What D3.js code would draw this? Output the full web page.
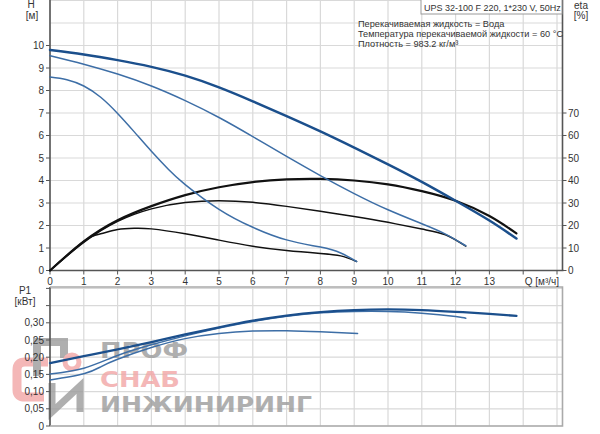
<!DOCTYPE html>
<html><head><meta charset="utf-8">
<script src="https://cdn.jsdelivr.net/npm/d3@7"></script>
<style>
html,body{margin:0;padding:0;background:#fff;}
svg{display:block;font-family:"Liberation Sans",Arial,sans-serif;}
</style></head>
<body>
<svg id="c" width="600" height="434"></svg>
<script>
// ---------- DATA ----------
const qTicks = [0,1,2,3,4,5,6,7,8,9,10,11,12,13];
const hTicks = [0,1,2,3,4,5,6,7,8,9,10];
const etaTicks = [0,10,20,30,40,50,60,70];
const pTicks = [0,0.05,0.10,0.15,0.20,0.25,0.30];
const pTickLabels = ["0","0,05","0,10","0,15","0,20","0,25","0,30"];

// Head H [m] vs Q [m3/h]
const headSpeed3 = [[0,9.8],[1,9.6],[2,9.35],[3,9.05],[4,8.66],[5,8.14],[6,7.52],[7,6.86],[8,6.18],[9,5.46],[10,4.72],[11,3.94],[12,3.1],[13,2.22],[13.8,1.42]];
const headSpeed2 = [[0,9.55],[1,9.17],[2,8.73],[3,8.2],[4,7.55],[5,6.8],[6,5.95],[7,5.07],[8,4.22],[9,3.42],[10,2.7],[11,2.08],[11.7,1.62],[12.3,1.1]];
const headSpeed1 = [[0,8.6],[0.5,8.48],[1,8.2],[1.5,7.7],[2,6.98],[2.5,6.15],[3,5.3],[3.5,4.5],[4,3.82],[5,2.72],[6,1.92],[7,1.36],[8,1.04],[8.6,0.78],[9.07,0.4]];

// Efficiency eta [%]
const etaSpeed3 = [[0,0],[1,12.9],[2,22.3],[3,28.6],[4,33.5],[5,37],[6,39.3],[7,40.5],[8,40.7],[9,40],[10,38.3],[11,35.3],[12,31],[13,24.2],[13.8,16.5]];
const etaSpeed2 = [[0,0],[1,12.5],[2,21.8],[3,27.4],[4,30.2],[5,31],[6,30.3],[7,28.5],[8,26.3],[9,24],[10,21.4],[11,18.4],[11.7,15.9],[12.3,10.8]];
const etaSpeed1 = [[0,0],[1,13],[1.5,16.3],[2,18.2],[2.5,18.8],[3,18.5],[4,16.3],[5,13.5],[6,10.8],[7,8.9],[8,7.6],[8.6,6.5],[9.07,4]];

// Power P1 [kW]
const powerSpeed3 = [[0,0.183],[1,0.203],[2,0.223],[3,0.244],[4,0.266],[5,0.287],[6,0.306],[7,0.321],[8,0.331],[9,0.337],[10,0.339],[11,0.337],[12,0.332],[13,0.326],[13.8,0.32]];
const powerSpeed2 = [[0,0.151],[1,0.168],[2,0.205],[3,0.236],[4,0.262],[5,0.285],[6,0.304],[7,0.319],[8,0.329],[9,0.333],[10,0.333],[11,0.328],[12,0.318],[12.3,0.313]];
const powerSpeed1 = [[0,0.134],[1,0.152],[1.5,0.172],[2,0.194],[3,0.228],[4,0.254],[5,0.269],[6,0.276],[7,0.277],[8,0.274],[9.1,0.269]];

const titleText = "UPS 32-100 F 220, 1*230 V, 50Hz";
const infoLines = ["Перекачиваемая жидкость = Вода","Температура перекачиваемой жидкости = 60 °C","Плотность = 983.2 кг/м³"];

// ---------- SCALES ----------
const svg = d3.select("#c");
const x = d3.scaleLinear().domain([0,15]).range([50,557]);
const yH = d3.scaleLinear().domain([0,12]).range([270.5,0.5]);
const yEta = d3.scaleLinear().domain([0,120]).range([270.5,0.5]);
const yP = d3.scaleLinear().domain([0,0.4]).range([426,288.4]);
const xRight = 562.5;

const gridC = "#d9d9d9", axisC = "#555", textC = "#333";
const blueDark = "#1b4f8c", blueMid = "#3d6ea6";

// ---------- GRIDS ----------
const gTop = svg.append("g");
gTop.selectAll("line.vg").data(d3.range(0,16)).enter().append("line")
  .attr("x1",d=>x(d)).attr("x2",d=>x(d)).attr("y1",0).attr("y2",yH(0))
  .attr("stroke",gridC).attr("stroke-width",1.2);
gTop.selectAll("line.hg").data(d3.range(0,13)).enter().append("line")
  .attr("x1",x(0)).attr("x2",xRight).attr("y1",d=>yH(d)).attr("y2",d=>yH(d))
  .attr("stroke",gridC).attr("stroke-width",1.2);

const gBot = svg.append("g");
gBot.selectAll("line").data(d3.range(0,16)).enter().append("line")
  .attr("x1",d=>x(d)).attr("x2",d=>x(d)).attr("y1",287).attr("y2",yP(0))
  .attr("stroke",gridC).attr("stroke-width",1.2);
gBot.selectAll("line.h").data(d3.range(0,0.401,0.05)).enter().append("line")
  .attr("x1",x(0)).attr("x2",xRight).attr("y1",d=>yP(d)).attr("y2",d=>yP(d))
  .attr("stroke",gridC).attr("stroke-width",1.2);

// ---------- WATERMARK ----------
const wm = svg.append("g").attr("opacity",0.8);
wm.append("path").attr("d","M48,362 L25,362 Q17,362 17,370 L17,390 Q17,397 25,397 L44,397")
  .attr("fill","none").attr("stroke","#f2a6a6").attr("stroke-width",9);
wm.append("path").attr("d","M37,376 L37,342 L64,342 L64,358")
  .attr("fill","none").attr("stroke","#9c9c9c").attr("stroke-width",8);
wm.append("circle").attr("cx",72).attr("cy",362).attr("r",7)
  .attr("fill","none").attr("stroke","#f2a6a6").attr("stroke-width",5);
wm.append("path").attr("d","M52,383 L52,412 L80,386 L80,412")
  .attr("fill","none").attr("stroke","#9c9c9c").attr("stroke-width",7);
const wmText = [["ПРОФ",358,"#9c9c9c",88],["СНАБ",387,"#f2a6a6",80],["ИНЖИНИРИНГ",412,"#9c9c9c",212]];
wm.selectAll("text").data(wmText).enter().append("text")
  .attr("x",100).attr("y",d=>d[1]).text(d=>d[0])
  .attr("fill",d=>d[2]).attr("font-family","DejaVu Sans").attr("font-weight","bold").attr("font-size",21)
  .attr("textLength",d=>d[3]).attr("lengthAdjust","spacingAndGlyphs");

// ---------- AXES ----------
const ax = svg.append("g").attr("stroke",axisC).attr("stroke-width",1.6);
ax.append("line").attr("x1",x(0)).attr("x2",x(0)).attr("y1",0).attr("y2",yH(0));
ax.append("line").attr("x1",x(0)).attr("x2",xRight+1).attr("y1",yH(0)).attr("y2",yH(0));
ax.append("line").attr("x1",xRight).attr("x2",xRight).attr("y1",0).attr("y2",yH(0));
svg.append("path").attr("d",`M${x(0)},287 L${xRight},287 L${xRight},${yP(0)} L${x(0)},${yP(0)}`)
  .attr("fill","none").attr("stroke","#aaa").attr("stroke-width",1.6);
ax.append("line").attr("x1",x(0)).attr("x2",x(0)).attr("y1",287).attr("y2",yP(0));

const tk = svg.append("g").attr("stroke",axisC).attr("stroke-width",1);
tk.selectAll("line.hx").data(d3.range(0,16)).enter().append("line")
  .attr("x1",d=>x(d)).attr("x2",d=>x(d)).attr("y1",yH(0)).attr("y2",yH(0)+4);
tk.selectAll("line.hy").data(hTicks).enter().append("line")
  .attr("x1",x(0)-4).attr("x2",x(0)).attr("y1",d=>yH(d)).attr("y2",d=>yH(d));
tk.selectAll("line.ey").data(etaTicks).enter().append("line")
  .attr("x1",xRight).attr("x2",xRight+4).attr("y1",d=>yEta(d)).attr("y2",d=>yEta(d));
tk.selectAll("line.py").data(d3.range(0,0.401,0.05)).enter().append("line")
  .attr("x1",x(0)-4).attr("x2",x(0)).attr("y1",d=>yP(d)).attr("y2",d=>yP(d));

const lab = svg.append("g").attr("fill",textC).attr("font-size",10);
lab.selectAll("text.q").data(qTicks).enter().append("text")
  .attr("x",d=>x(d)).attr("y",yH(0)+14).attr("text-anchor","middle").text(d=>d);
lab.append("text").attr("x",559).attr("y",yH(0)+14).attr("text-anchor","end").text("Q [м³/ч]");
lab.selectAll("text.h").data(hTicks).enter().append("text")
  .attr("x",44).attr("y",d=>yH(d)+3.5).attr("text-anchor","end").text(d=>d);
lab.selectAll("text.e").data(etaTicks).enter().append("text")
  .attr("x",568).attr("y",d=>yEta(d)+3.5).attr("text-anchor","start").text(d=>d);
lab.selectAll("text.p").data(pTicks).enter().append("text")
  .attr("x",44).attr("y",d=>yP(d)+3.5).attr("text-anchor","end").text((d,i)=>pTickLabels[i]);
lab.append("text").attr("x",31).attr("y",8).attr("text-anchor","middle").text("H");
lab.append("text").attr("x",32).attr("y",19).attr("text-anchor","middle").text("[м]");
lab.append("text").attr("x",581).attr("y",9).attr("text-anchor","middle").text("eta");
lab.append("text").attr("x",581).attr("y",19).attr("text-anchor","middle").text("[%]");
lab.append("text").attr("x",25).attr("y",294).attr("text-anchor","middle").text("P1");
lab.append("text").attr("x",25).attr("y",305).attr("text-anchor","middle").text("[кВт]");

// ---------- CURVES ----------
const cv = d3.curveNatural;
const lineH = d3.line().x(d=>x(d[0])).y(d=>yH(d[1])).curve(cv);
const lineE = d3.line().x(d=>x(d[0])).y(d=>yEta(d[1])).curve(cv);
const lineP = d3.line().x(d=>x(d[0])).y(d=>yP(d[1])).curve(cv);
const curves = svg.append("g").attr("fill","none").attr("stroke-linecap","round");
curves.append("path").attr("d",lineE(etaSpeed1)).attr("stroke","#111").attr("stroke-width",1.5);
curves.append("path").attr("d",lineE(etaSpeed2)).attr("stroke","#111").attr("stroke-width",1.5);
curves.append("path").attr("d",lineE(etaSpeed3)).attr("stroke","#111").attr("stroke-width",2.2);
curves.append("path").attr("d",lineH(headSpeed1)).attr("stroke",blueMid).attr("stroke-width",1.5);
curves.append("path").attr("d",lineH(headSpeed2)).attr("stroke",blueMid).attr("stroke-width",1.5);
curves.append("path").attr("d",lineH(headSpeed3)).attr("stroke",blueDark).attr("stroke-width",2.5);
curves.append("path").attr("d",lineP(powerSpeed1)).attr("stroke",blueMid).attr("stroke-width",1.5);
curves.append("path").attr("d",lineP(powerSpeed2)).attr("stroke",blueMid).attr("stroke-width",1.5);
curves.append("path").attr("d",lineP(powerSpeed3)).attr("stroke",blueDark).attr("stroke-width",2.3);

// ---------- TITLE / INFO ----------
svg.append("rect").attr("x",421).attr("y",-1).attr("width",141).attr("height",15)
  .attr("fill","#fff").attr("stroke","#999").attr("stroke-width",1);
svg.append("text").attr("x",424).attr("y",10.5).attr("font-size",9).attr("fill",textC).text(titleText);
svg.append("g").selectAll("text").data(infoLines).enter().append("text")
  .attr("x",358).attr("y",(d,i)=>27+i*10).attr("font-size",9.2).attr("fill",textC).text(d=>d);
</script>
</body></html>
